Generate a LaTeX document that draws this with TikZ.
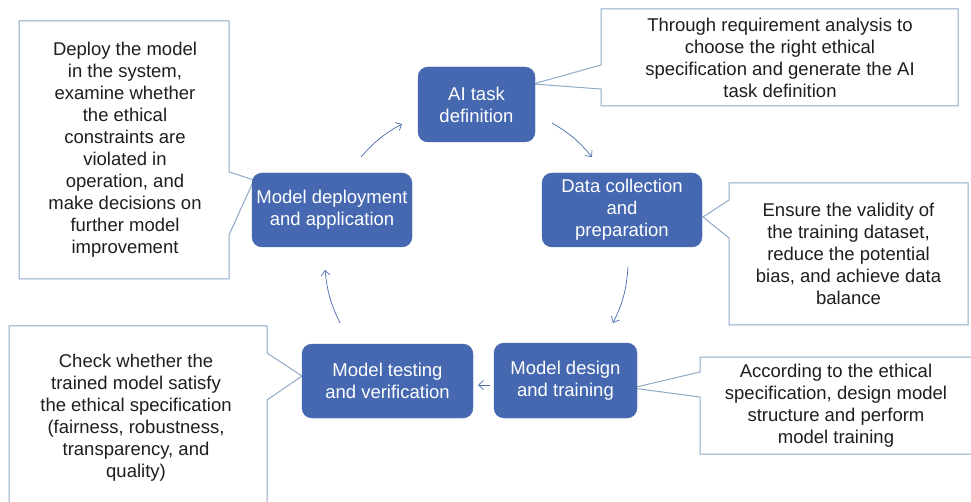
\documentclass[tikz,border=0pt]{standalone}
\usepackage{fontspec}
\setmainfont{Liberation Sans}
\usetikzlibrary{arrows.meta}
\definecolor{boxblue}{HTML}{4568B1}
\definecolor{calloutline}{HTML}{8EAAC9}
\definecolor{arrowblue}{HTML}{4A6AAE}
\definecolor{textdark}{HTML}{1E1E1E}
\tikzset{
  stagebox/.style={draw=boxblue, fill=boxblue, rounded corners=10pt, text=white,
    align=center, inner sep=0pt, font=\fontsize{18.5}{22}\selectfont},
  callbox/.style={draw=calloutline, fill=white, line width=1pt, line join=miter},
  calltext/.style={align=center, text=textdark, inner sep=0pt,
    font=\fontsize{18.5}{22}\selectfont},
  cyclearrow/.style={draw=arrowblue, line width=0.7pt,
    -{Straight Barb[length=5pt,width=9pt]}},
}
\begin{document}
\begin{tikzpicture}[x=1pt,y=-1pt]
\clip (0,0) rectangle (971,502);
\fill[white] (0,0) rectangle (971,502);

% callouts
\draw[callbox] (601,9) -- (958,9) -- (958,106) -- (601,106) -- (601,89) -- (533,84) -- (601,65) -- cycle;
\node[calltext] (t1) at (780,57.5) {Through requirement analysis to\\choose the right ethical\\specification and generate the AI\\task definition};

\draw[callbox] (729,183) -- (968,183) -- (968,325) -- (729,325) -- (729,238) -- (703,217) -- (729,200) -- cycle;
\node[calltext] (t2) at (848.5,254) {Ensure the validity of\\the training dataset,\\reduce the potential\\bias, and achieve data\\balance};

\draw[callbox] (700,357) -- (976,357) -- (976,454) -- (700,454) -- (700,397) -- (632,388) -- (700,372) -- cycle;
\node[calltext] (t3) at (836,405.5) {According to the ethical\\specification, design model\\structure and perform\\model training};

\draw[callbox] (19,21) -- (229,21) -- (229,172) -- (254,180) -- (229,235) -- (229,279) -- (19,279) -- cycle;
\node[calltext] (t4) at (125,150) {Deploy the model\\in the system,\\examine whether\\the ethical\\constraints are\\violated in\\operation, and\\make decisions on\\further model\\improvement};

\draw[callbox] (9,326) -- (267,326) -- (267,353) -- (302,376) -- (267,400) -- (267,520) -- (9,520) -- cycle;
\node[calltext] (t5) at (136,418) {Check whether the\\trained model satisfy\\the ethical specification\\(fairness, robustness,\\transparency, and\\quality)};

% stages
\node[stagebox, minimum width=117pt, minimum height=75pt] (ai) at (476.5,104.5) {AI task\\definition};
\node[stagebox, minimum width=160pt, minimum height=74pt] (data) at (622,210) {Data collection\\and\\preparation};
\node[stagebox, minimum width=143pt, minimum height=75pt] (design) at (565.5,380.5) {Model design\\and training};
\node[stagebox, minimum width=171pt, minimum height=74pt] (test) at (387.5,381) {Model testing\\and verification};
\node[stagebox, minimum width=160pt, minimum height=74pt] (deploy) at (332,210) {Model deployment\\and application};

% cycle arrows
\coordinate (a1s) at (552,123);
\coordinate (a1e) at (592,157);
\coordinate (a2s) at (628,267);
\coordinate (a2e) at (613,323);
\coordinate (a3s) at (490,385);
\coordinate (a3e) at (478,385);
\coordinate (a4s) at (340,323);
\coordinate (a4e) at (325,270);
\coordinate (a5s) at (361,157);
\coordinate (a5e) at (402,124);
\draw[cyclearrow] (a1s) to[bend left=10] (a1e);
\draw[cyclearrow] (a2s) to[bend left=11] (a2e);
\draw[cyclearrow] (a3s) -- (a3e);
\draw[cyclearrow] (a4s) to[bend left=10] (a4e);
\draw[cyclearrow] (a5s) to[bend left=10] (a5e);
\end{tikzpicture}
\end{document}
